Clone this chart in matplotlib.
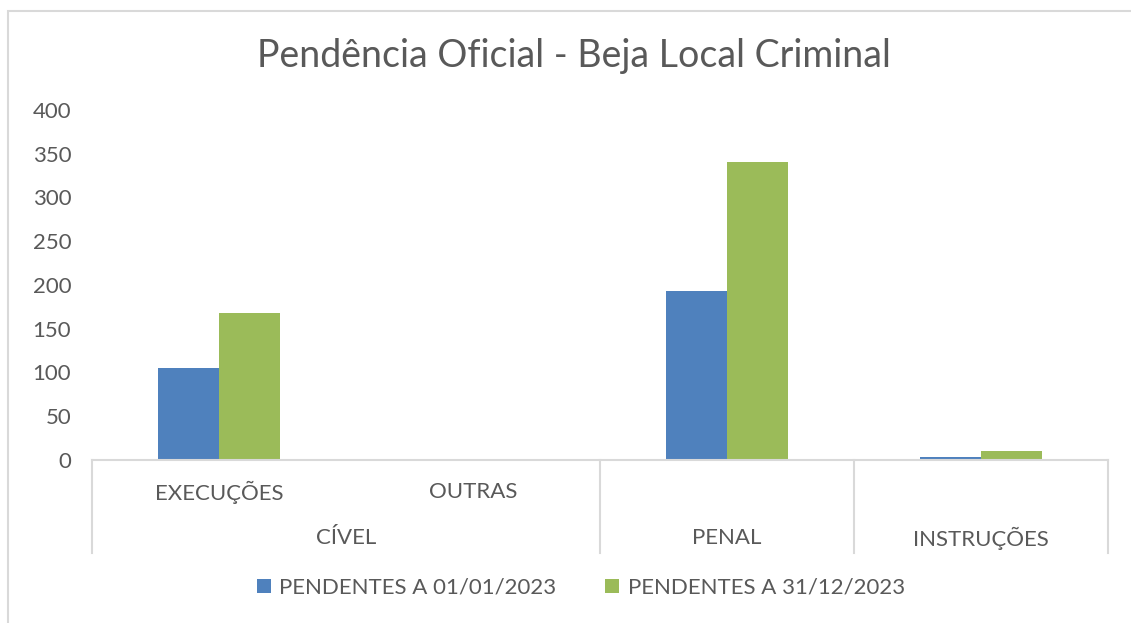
import matplotlib.pyplot as plt
import numpy as np
from matplotlib.patches import Rectangle
import matplotlib.transforms as mtransforms

plt.rcParams['font.family'] = ['Lato', 'DejaVu Sans']

# dados
subcats = ['EXECUÇÕES', 'OUTRAS', '', '']
groups = ['CÍVEL', 'PENAL', 'INSTRUÇÕES']
group_span = [(0, 1), (2, 2), (3, 3)]
pend_inicio = [105, 0, 193, 3]
pend_fim = [168, 0, 340, 10]
series_names = ['PENDENTES A 01/01/2023', 'PENDENTES A 31/12/2023']

txt = '#595959'
grid = '#d9d9d9'
fs = 16

fig = plt.figure(figsize=(11.31, 6.23), dpi=100)
ax = fig.add_axes([92/1131, 1-460/623, (1108-92)/1131, 350/623])

x = np.arange(len(subcats))
w = 0.24
ax.bar(x - w/2, pend_inicio, w, color='#4F81BD', label=series_names[0])
ax.bar(x + w/2, pend_fim, w, color='#9BBB59', label=series_names[1])

ax.set_xlim(-0.5, 3.5)
ax.set_ylim(0, 400)
ax.set_yticks(range(0, 401, 50))
ax.tick_params(axis='y', length=0, pad=15, labelsize=fs, labelcolor=txt)
ax.set_xticks([])
for s in ['top', 'right', 'left']:
    ax.spines[s].set_visible(False)
ax.spines['bottom'].set_color(grid)
ax.spines['bottom'].set_linewidth(1.5)

# eixo de categorias em dois níveis
tr = mtransforms.blended_transform_factory(ax.transData, ax.transAxes)
ybot = -(553 - 460) / 350
for xs in [-0.5, 1.5, 2.5, 3.5]:
    ax.plot([xs, xs], [0, ybot], color=grid, lw=1.5, transform=tr, clip_on=False)
for i, s in enumerate(subcats):
    if s:
        ax.text(i, -(492 - 460) / 350, s, transform=tr, ha='center', va='center',
                fontsize=fs, color=txt)
for g, (a, b) in zip(groups, group_span):
    ax.text((a + b) / 2, -(538 - 460) / 350, g, transform=tr, ha='center', va='center',
            fontsize=fs, color=txt)

fig.text(574/1131, 1-56/623, 'Pendência Oficial - Beja Local Criminal',
         ha='center', va='center', fontsize=27, color=txt)

fig.legend(loc='center', bbox_to_anchor=(581/1131, 1-588/623), ncol=2, frameon=False,
           fontsize=fs, handlelength=0.6, handleheight=0.6, handletextpad=0.4,
           columnspacing=2.2, labelcolor=txt)

fig.patches.append(Rectangle((7.5/1131, -0.1), 1.2, 1 - 11.5/623 + 0.1,
                             transform=fig.transFigure, fill=False,
                             edgecolor=grid, lw=1.5))

fig.savefig('out.png', dpi=100)
